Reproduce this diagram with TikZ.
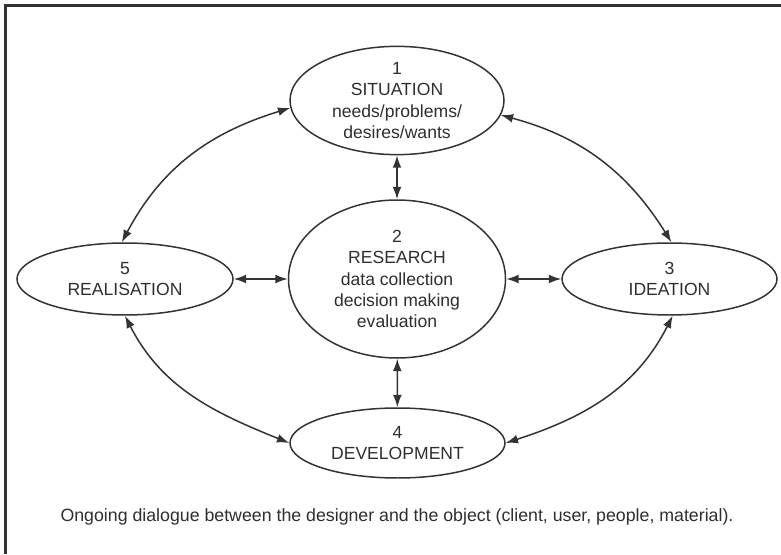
\documentclass[tikz,border=0pt]{standalone}
\usepackage{fontspec}
\setmainfont{Liberation Sans}
\usetikzlibrary{arrows.meta}
\usetikzlibrary{shapes.geometric}
\tikzset{stage/.style = {draw = mgray, line width = 0.85pt, ellipse, inner sep = 0, align = center, text = mtext, font = \fontsize{10}{12.2}\selectfont}}
\tikzset{link/.style = {{Latex[length = 7pt, width = 5pt]}-{Latex[length = 7pt, width = 5pt]}, line width = 0.85pt, draw = mgray}}
\definecolor{mgray}{rgb}{0.2, 0.2, 0.2}
\definecolor{mtext}{rgb}{0.18, 0.18, 0.18}

\begin{document}
\begin{tikzpicture}
    \useasboundingbox (0, 0) rectangle (15.62, 11.08);
    \draw [line width = 1.4pt, mgray] (0.11, 0) -- (0.11, 10.97) -- (15.62, 10.97);
    \node [stage, minimum width = 4.28cm, minimum height = 2.1cm] (sit) at (7.94, 9.07) {1\\SITUATION\\needs/problems/\\desires/wants};
    \node [stage, minimum width = 4.34cm, minimum height = 3.16cm] (res) at (7.94, 5.5) {2\\RESEARCH\\data collection\\decision making\\evaluation};
    \node [stage, minimum width = 4.32cm, minimum height = 1.44cm] (rea) at (2.5, 5.5) {5\\REALISATION};
    \node [stage, minimum width = 4.3cm, minimum height = 1.44cm] (ide) at (13.39, 5.5) {3\\IDEATION};
    \node [stage, minimum width = 4.3cm, minimum height = 1.4cm] (dev) at (7.95, 2.22) {4\\DEVELOPMENT};
    \node [text = mtext, font = \fontsize{10.1}{12.2}\selectfont] (cap) at (7.94, 0.74) {Ongoing dialogue between the designer and the object (client, user, people, material).};
    \draw [link] (sit) -- (res);
    \draw [link] (res) -- (dev);
    \draw [link] (rea) -- (res);
    \draw [link] (res) -- (ide);
    \draw [link] (sit.184) to [out = 197, in = 62] (rea.95);
    \draw [link] (sit.-8) to [out = -15, in = 122] (ide.87);
    \draw [link] (rea.south) to [out = -63, in = 158] (dev.west);
    \draw [link] (ide.-85) to [out = 243, in = 18] (dev.east);
  \end{tikzpicture}
\end{document}
